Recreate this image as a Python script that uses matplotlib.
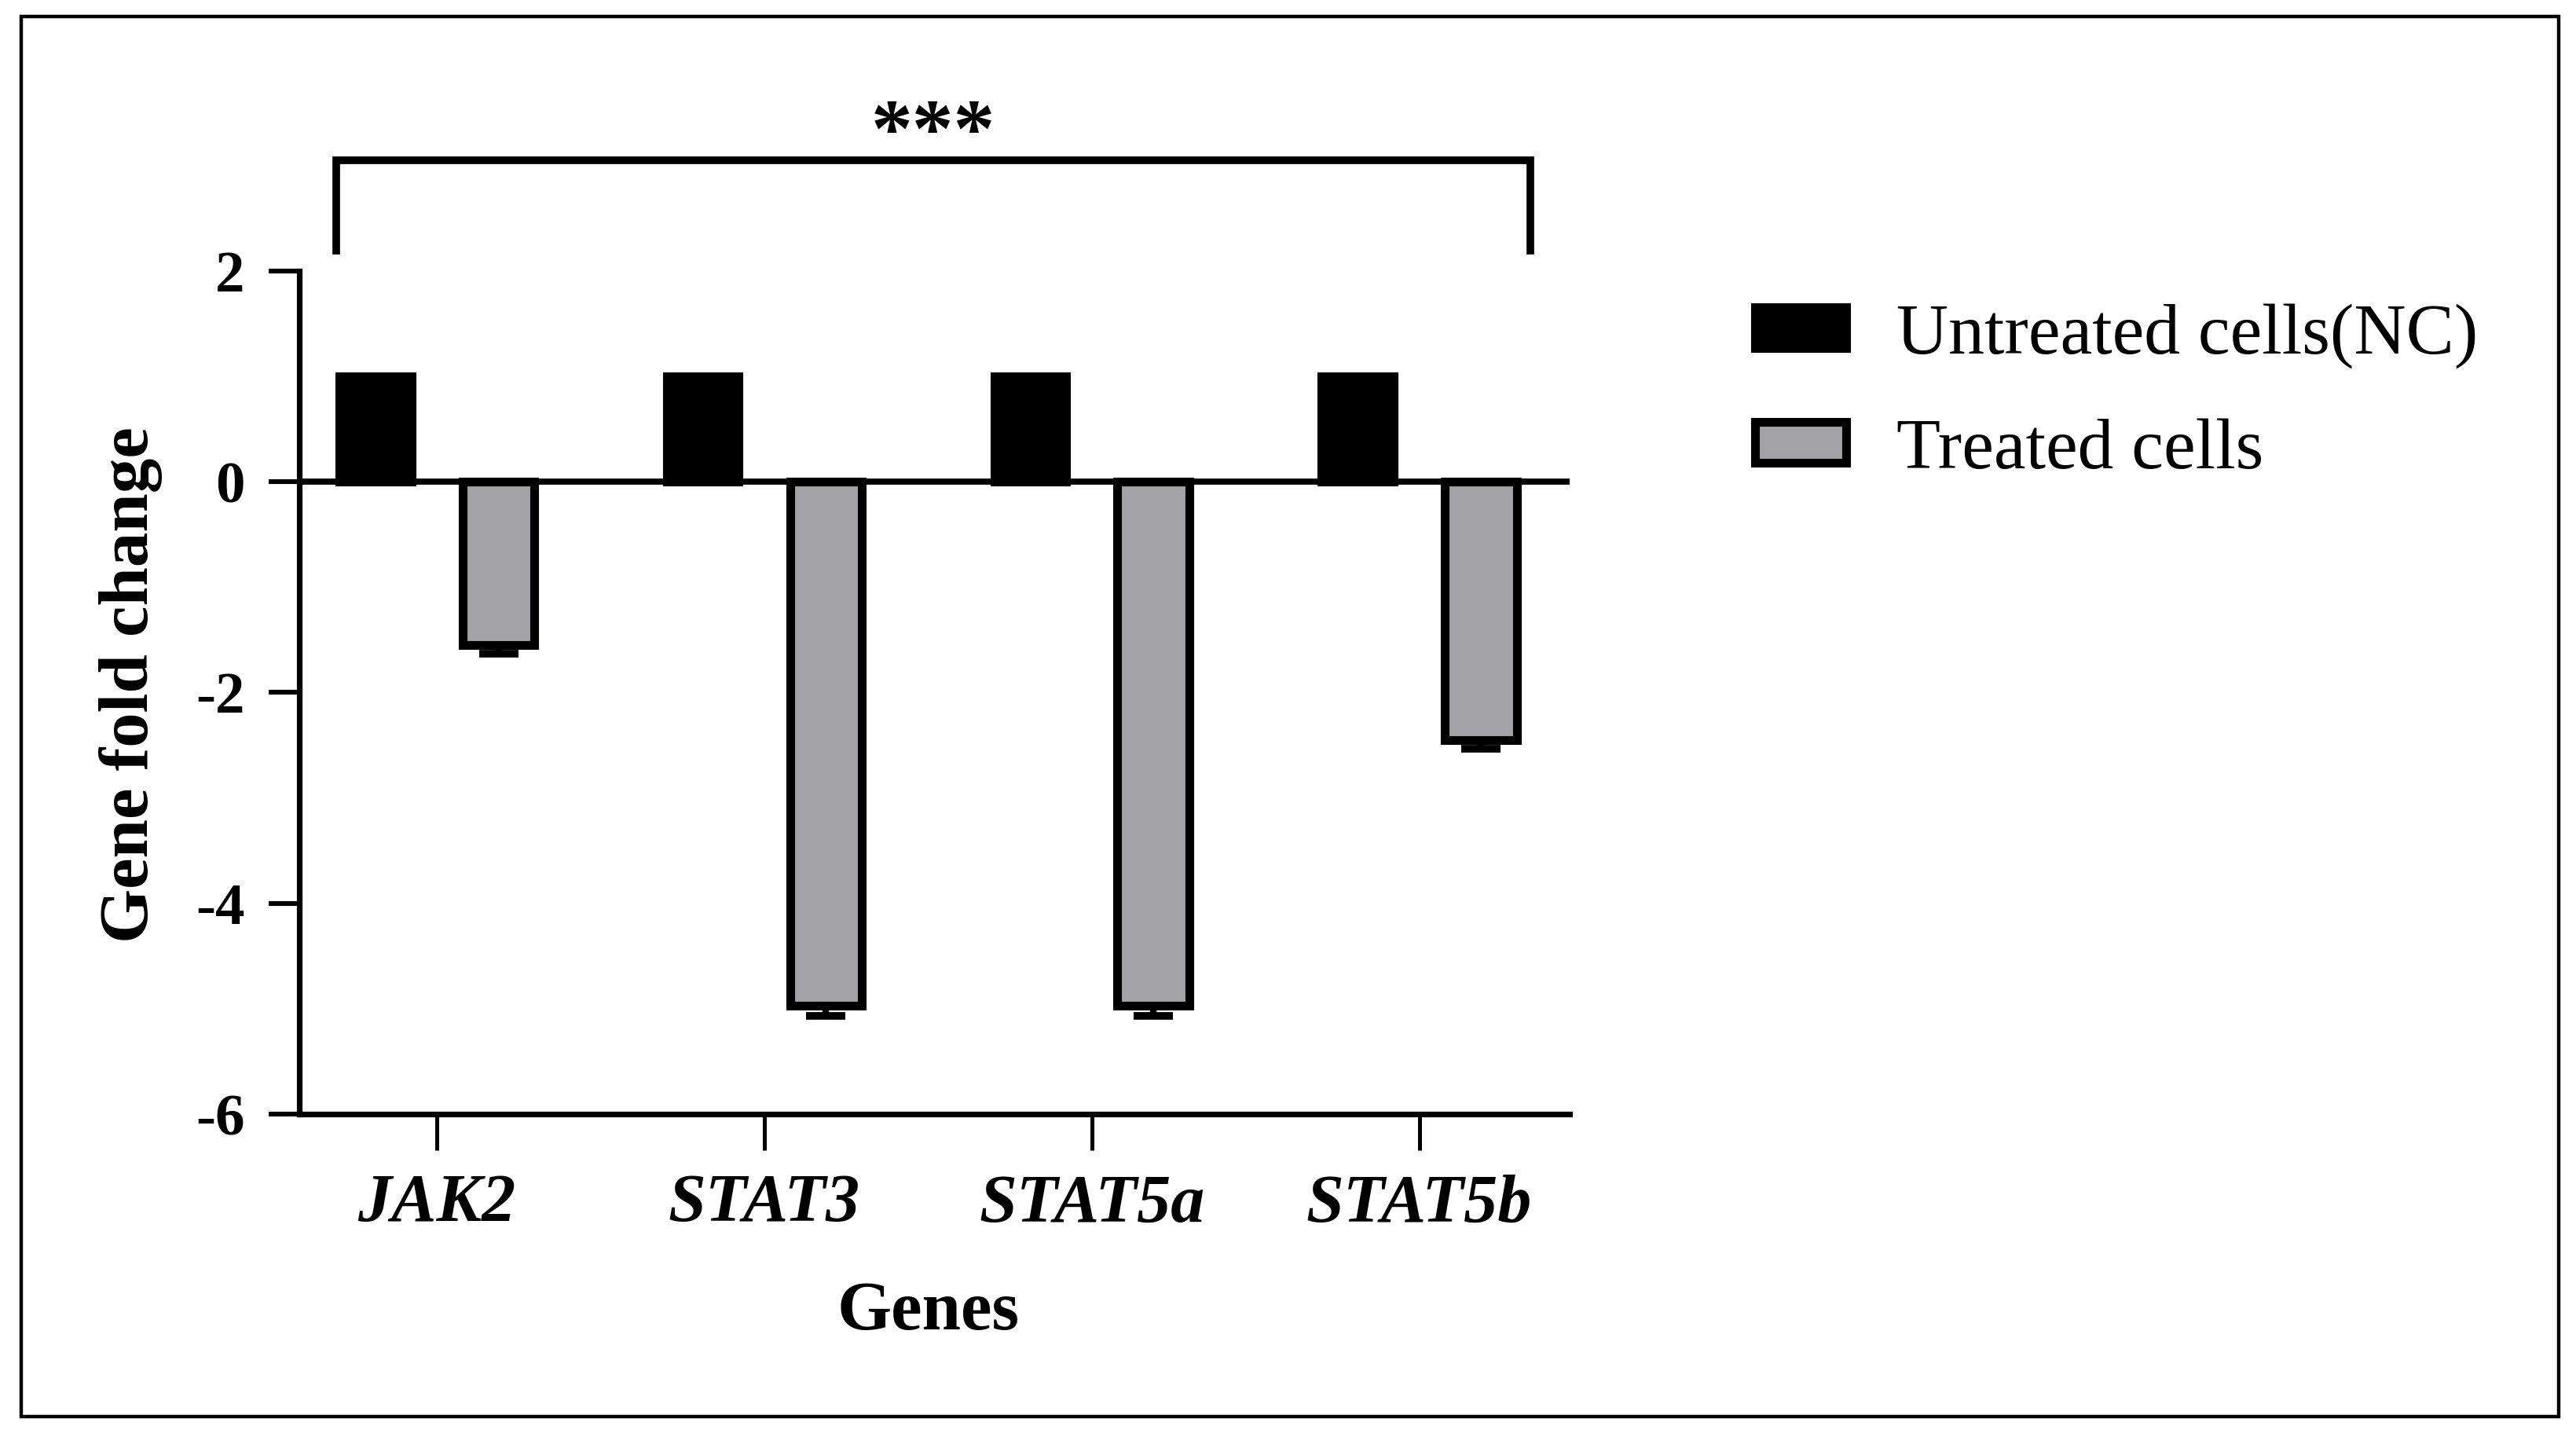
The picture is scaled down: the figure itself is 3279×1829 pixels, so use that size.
import numpy as np
import matplotlib.pyplot as plt
from matplotlib.patches import Rectangle

plt.rcParams['font.family'] = ['Liberation Serif', 'DejaVu Serif']

genes = ['JAK2', 'STAT3', 'STAT5a', 'STAT5b']
untreated = [1.0, 1.0, 1.0, 1.0]
treated = [-1.55, -4.97, -4.97, -2.45]
treated_err = [0.08, 0.1, 0.1, 0.08]
series_names = ['Untreated cells(NC)', 'Treated cells']
y_ticks = [-6, -4, -2, 0, 2]
sig_label = '***'

fig = plt.figure(figsize=(16.4, 9.145), dpi=200)
ax = fig.add_axes([0.1162, 0.2247, 0.4928, 0.5867])

x = np.arange(len(genes))
w = 0.22
off = 0.188
edge_lw = 4.0

b1 = ax.bar(x - off, untreated, w, color='black', edgecolor='black',
            linewidth=edge_lw, label=series_names[0], zorder=3)
b2 = ax.bar(x + off, treated, w, color='#a3a3a7', edgecolor='black',
            linewidth=edge_lw, label=series_names[1], zorder=3)
ax.errorbar(x + off, treated, yerr=[treated_err, np.zeros(len(genes))],
            fmt='none', ecolor='black', elinewidth=3, capsize=9,
            capthick=3.5, zorder=2)

ax.axhline(0, color='black', linewidth=2.8, zorder=4)

ax.set_xlim(-0.42, 3.458)
ax.set_ylim(-6, 2)
ax.set_yticks(y_ticks)
ax.set_yticklabels([str(t) for t in y_ticks], fontweight='bold', fontsize=27)
ax.set_xticks(x)
ax.set_xticklabels(genes, fontweight='bold', fontstyle='italic', fontsize=31)

for s in ['top', 'right']:
    ax.spines[s].set_visible(False)
for s in ['left', 'bottom']:
    ax.spines[s].set_linewidth(2.6)

ax.tick_params(axis='y', length=14, width=2.2, pad=11)
ax.tick_params(axis='x', length=16.5, width=1.8, pad=11)

ax.set_ylabel('Gene fold change', fontweight='bold', fontsize=32)
ax.yaxis.set_label_coords(-0.108, 0.509)
ax.set_xlabel('Genes', fontweight='bold', fontsize=32)
ax.xaxis.set_label_coords(0.495, -0.198)

# significance bracket above the chart
bx0, bx1, by, bdrop = -0.307, 3.339, 3.05, 2.19
ax.plot([bx0, bx0, bx1, bx1], [bdrop, by, by, bdrop], color='black',
        linewidth=3.5, clip_on=False, solid_joinstyle='miter')
ax.text((bx0 + bx1) / 2, by - 0.13, sig_label, ha='center', va='bottom',
        fontsize=38, fontweight='bold', clip_on=False)

fig.legend(handles=[b1, b2], labels=series_names, loc='upper left',
           bbox_to_anchor=(0.681, 0.789), frameon=False, fontsize=33,
           borderpad=0, borderaxespad=0, handlelength=1.27,
           handleheight=0.5, handletextpad=0.7, labelspacing=0.69)

# outer frame
fig.add_artist(Rectangle((0.0082, 0.0142), 0.9848, 0.9743,
                         transform=fig.transFigure, fill=False,
                         edgecolor='black', linewidth=1.6))

fig.savefig('out.png', dpi=200)
